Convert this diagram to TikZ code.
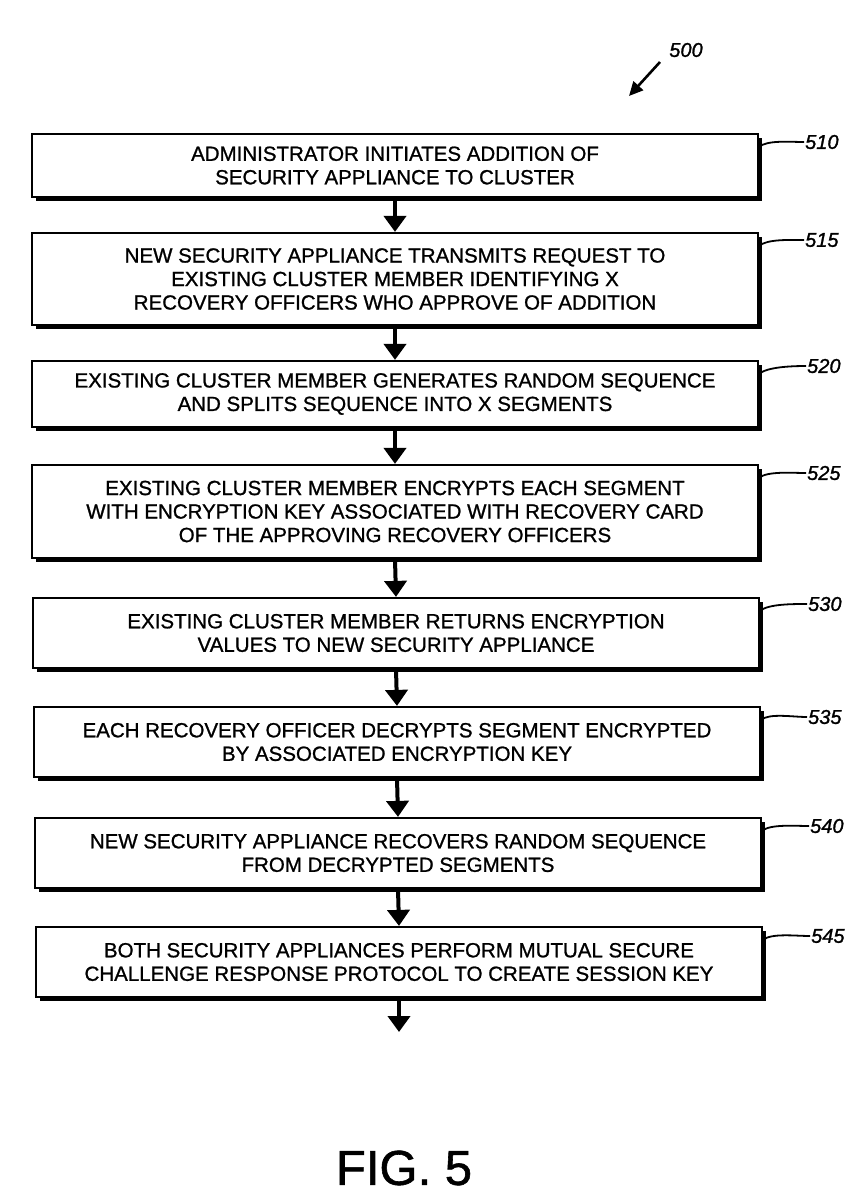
\documentclass[tikz,border=0pt]{standalone}
\usepackage{fontspec}
\setmainfont{Liberation Sans}
\newfontfamily\boxfont[FakeBold=1]{Liberation Sans}
\newfontfamily\labfont[FakeBold=1.2]{Liberation Sans}
\usetikzlibrary{arrows.meta}
\begin{document}
\begin{tikzpicture}[x=1pt,y=1pt,
  stepbox/.style={draw=black, line width=2.2pt, fill=white, minimum width=726pt, align=center, inner sep=0pt,
     font=\boxfont\fontsize{20.5}{23.5}\selectfont,
     preaction={fill=black, transform canvas={xshift=3.5pt, yshift=-3.5pt}}},
  flow/.style={line width=4pt, -{Triangle[width=22pt,length=16pt]}},
  reflab/.style={font=\labfont\fontsize{20}{22}\selectfont\itshape, anchor=west, inner sep=1pt},
  leader/.style={line width=1.8pt}]
\useasboundingbox (0,0) rectangle (850,-1202);
\fill[white] (0,0) rectangle (850,-1202);

\node[stepbox, minimum height=63pt] (b510) at (395,-165.5) {ADMINISTRATOR INITIATES ADDITION OF\\SECURITY APPLIANCE TO CLUSTER};
\node[stepbox, minimum height=92pt] (b515) at (395,-279) {NEW SECURITY APPLIANCE TRANSMITS REQUEST TO\\EXISTING CLUSTER MEMBER IDENTIFYING X\\RECOVERY OFFICERS WHO APPROVE OF ADDITION};
\node[stepbox, minimum height=66pt] (b520) at (395,-394) {EXISTING CLUSTER MEMBER GENERATES RANDOM SEQUENCE\\AND SPLITS SEQUENCE INTO X SEGMENTS};
\node[stepbox, minimum height=93pt] (b525) at (395,-511.5) {EXISTING CLUSTER MEMBER ENCRYPTS EACH SEGMENT\\WITH ENCRYPTION KEY ASSOCIATED WITH RECOVERY CARD\\OF THE APPROVING RECOVERY OFFICERS};
\node[stepbox, minimum height=70pt] (b530) at (396,-633) {EXISTING CLUSTER MEMBER RETURNS ENCRYPTION\\VALUES TO NEW SECURITY APPLIANCE};
\node[stepbox, minimum height=70pt] (b535) at (397,-742) {EACH RECOVERY OFFICER DECRYPTS SEGMENT ENCRYPTED\\BY ASSOCIATED ENCRYPTION KEY};
\node[stepbox, minimum height=70pt] (b540) at (398,-853) {NEW SECURITY APPLIANCE RECOVERS RANDOM SEQUENCE\\FROM DECRYPTED SEGMENTS};
\node[stepbox, minimum height=70pt] (b545) at (399,-962) {BOTH SECURITY APPLIANCES PERFORM MUTUAL SECURE\\CHALLENGE RESPONSE PROTOCOL TO CREATE SESSION KEY};

\coordinate (endc) at (399,-1032);

\draw[flow] (b510.south) -- (b515.north);
\draw[flow] (b515.south) -- (b520.north);
\draw[flow] (b520.south) -- (b525.north);
\draw[flow] (b525.south) -- (b530.north);
\draw[flow] (b530.south) -- (b535.north);
\draw[flow] (b535.south) -- (b540.north);
\draw[flow] (b540.south) -- (b545.north);
\draw[flow] (b545.south) -- (endc);

\foreach \n/\lx/\ly in {510/804/-142,515/804/-240,520/806/-366,525/806/-473,530/807/-604,535/807/-717,540/809/-826,545/810/-936}{
  \node[reflab] (l\n) at (\lx,\ly) {\n};
  \draw[leader] ([yshift=-14pt]b\n.north east) .. controls +(8,7) and +(-14,0) .. (l\n.west);
}

\node[font=\labfont\fontsize{20}{22}\selectfont\itshape, inner sep=1pt] (l500) at (686,-50) {500};
\coordinate (a500s) at (660,-62);
\coordinate (a500e) at (629,-96);
\draw[line width=2.6pt, -{Triangle[width=13pt,length=14pt]}] (a500s) -- (a500e);

\node[font=\labfont\fontsize{49}{52}\selectfont] (fig) at (404,-1168) {FIG. 5};
\end{tikzpicture}
\end{document}
